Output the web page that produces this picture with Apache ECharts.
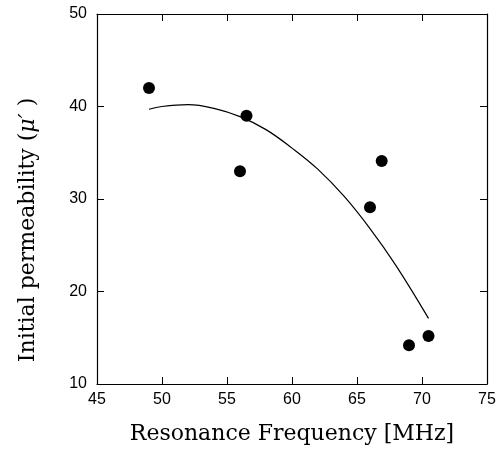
<!DOCTYPE html>
<html><head><meta charset="utf-8">
<script src="https://cdn.jsdelivr.net/npm/echarts@6/dist/echarts.min.js"></script>
<style>html,body{margin:0;padding:0;background:#fff}#c{width:499px;height:450px}</style>
</head><body><div id="c"></div>
<script>
// measured points
var freqMHz = [49, 56.5, 56, 66.9, 66, 69, 70.5];
var permeability = [42, 39, 33, 34.1, 29.1, 14.2, 15.2];
// fitted curve
var curveFreq = [49, 50, 52, 54, 56, 58, 60, 62, 64, 66, 68, 70.5];
var curvePerm = [39.7, 40.0, 40.2, 39.8, 38.9, 37.5, 35.5, 33.2, 30.3, 26.8, 22.8, 17.1];
var xTitle = 'Resonance Frequency [MHz]';
var yTitleMain = 'Initial permeability (';
var yTitleSym = '\u03bc\u2032';
var yTitleEnd = ' )';

var chart = echarts.init(document.getElementById('c'), null, {renderer: 'canvas'});
var lineStyle = {color: '#000', width: 1.2};
var tickIn = {show: true, inside: true, length: 7, lineStyle: {color: '#000', width: 1}};
chart.setOption({
  animation: false,
  backgroundColor: '#fff',
  grid: {left: 97, right: 12, top: 14, bottom: 58, containLabel: false},
  xAxis: [
    {type: 'value', min: 45, max: 75, interval: 5, position: 'bottom',
     axisLine: {show: true, onZero: false, lineStyle: lineStyle}, axisTick: tickIn,
     splitLine: {show: false},
     axisLabel: {color: '#000', fontFamily: 'Liberation Sans', fontSize: 16, margin: 8},
     name: xTitle, nameLocation: 'middle', nameGap: 39,
     nameTextStyle: {color: '#000', fontFamily: 'DejaVu Serif', fontSize: 22}},
    {type: 'value', min: 45, max: 75, interval: 5, position: 'top',
     axisLine: {show: true, onZero: false, lineStyle: lineStyle}, axisTick: tickIn,
     splitLine: {show: false}, axisLabel: {show: false}}
  ],
  yAxis: [
    {type: 'value', min: 10, max: 50, interval: 10, position: 'left',
     axisLine: {show: true, onZero: false, lineStyle: lineStyle}, axisTick: tickIn,
     splitLine: {show: false},
     axisLabel: {color: '#000', fontFamily: 'Liberation Sans', fontSize: 16, margin: 10}},
    {type: 'value', min: 10, max: 50, interval: 10, position: 'right',
     axisLine: {show: true, onZero: false, lineStyle: lineStyle}, axisTick: tickIn,
     splitLine: {show: false}, axisLabel: {show: false}}
  ],
  graphic: [{
    type: 'text', x: 28, y: 230, rotation: Math.PI / 2,
    style: {
      text: '{a|' + yTitleMain + '}{b|' + yTitleSym + '}{a|' + yTitleEnd + '}',
      align: 'center', verticalAlign: 'middle',
      rich: {
        a: {fill: '#000', fontFamily: 'DejaVu Serif', fontSize: 22},
        b: {fill: '#000', fontFamily: 'DejaVu Serif', fontSize: 22, fontStyle: 'italic'}
      }
    }
  }],
  series: [
    {type: 'line', data: curveFreq.map(function (x, i) { return [x, curvePerm[i]]; }),
     smooth: 0.4, showSymbol: false, lineStyle: {color: '#000', width: 1.2}},
    {type: 'scatter', data: freqMHz.map(function (x, i) { return [x, permeability[i]]; }),
     symbol: 'circle', symbolSize: 12, itemStyle: {color: '#000', opacity: 1}}
  ]
});
</script></body></html>
